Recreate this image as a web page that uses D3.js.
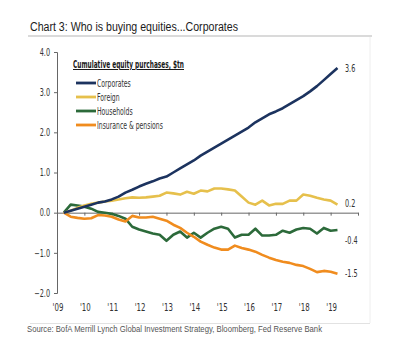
<!DOCTYPE html>
<html>
<head>
<meta charset="utf-8">
<script src="https://cdn.jsdelivr.net/npm/d3@7"></script>
<style>
body { margin: 0; background: #fff; }
svg { display: block; }
.ax text { font-family: "Liberation Sans Narrow", "DejaVu Sans Condensed", sans-serif; font-size: 10px; fill: #333; }
</style>
</head>
<body>
<svg id="chart" width="400" height="361"></svg>
<script>
// quarterly, Q1 2009 .. Q1 2019
var quarters = d3.range(41).map(i => 2009.25 + i * 0.25)

var corporates = [0, 0.05, 0.1, 0.15, 0.2, 0.25, 0.28, 0.33, 0.4, 0.5, 0.57, 0.65, 0.72, 0.78, 0.85, 0.9,
	1.0, 1.1, 1.2, 1.3, 1.42, 1.52, 1.62, 1.72, 1.82, 1.92, 2.02, 2.12, 2.25, 2.35, 2.45, 2.52,
	2.6, 2.7, 2.8, 2.9, 3.02, 3.15, 3.3, 3.45, 3.6]
var foreign = [0, 0.05, 0.12, 0.18, 0.22, 0.25, 0.28, 0.3, 0.33, 0.36, 0.38, 0.37, 0.38, 0.4, 0.42, 0.5,
	0.48, 0.45, 0.52, 0.47, 0.55, 0.53, 0.6, 0.6, 0.58, 0.55, 0.4, 0.25, 0.2, 0.3, 0.18, 0.22,
	0.22, 0.3, 0.3, 0.45, 0.42, 0.37, 0.33, 0.3, 0.2]
var households = [0, 0.2, 0.18, 0.15, 0.1, 0.02, 0, -0.03, -0.08, -0.15, -0.35, -0.42, -0.47, -0.52, -0.55, -0.7,
	-0.55, -0.47, -0.62, -0.5, -0.62, -0.5, -0.4, -0.35, -0.4, -0.62, -0.55, -0.55, -0.4, -0.57, -0.57, -0.55,
	-0.45, -0.5, -0.42, -0.38, -0.4, -0.52, -0.38, -0.45, -0.43]
var insurance = [0, -0.1, -0.13, -0.15, -0.14, -0.06, -0.07, -0.1, -0.17, -0.22, -0.08, -0.12, -0.12, -0.1, -0.15, -0.2,
	-0.3, -0.38, -0.5, -0.6, -0.72, -0.8, -0.87, -0.92, -0.92, -0.82, -0.88, -0.92, -0.97, -1.05, -1.12, -1.18,
	-1.22, -1.25, -1.3, -1.33, -1.4, -1.48, -1.45, -1.47, -1.52]

var seriesNames = ["Corporates", "Foreign", "Households", "Insurance & pensions"]
var seriesColors = ["#1c335f", "#e6c04c", "#2c6a3a", "#f08c1e"]
var endLabels = ["3.6", "0.2", "-0.4", "-1.5"]
var yTicks = [4, 3, 2, 1, 0, -1, -2]
var xYears = d3.range(2009, 2020)

var svg = d3.select("#chart")
var cond = '"Liberation Sans Narrow", "DejaVu Sans Condensed", sans-serif'

// the original uses a very narrow font, squeeze ours to match
function squeeze(sel, k) {
	sel.each(function() {
		let w = this.getComputedTextLength()
		d3.select(this)
		.attr("textLength", w * k)
		.attr("lengthAdjust", "spacingAndGlyphs")
	})
}

// title + frame
svg.append("text")
	.attr("x", 30).attr("y", 31)
	.attr("font-family", "Liberation Sans, Arial, sans-serif")
	.attr("font-size", 12.5)
	.attr("fill", "#1a1a1a")
	.attr("textLength", 208).attr("lengthAdjust", "spacingAndGlyphs")
	.text("Chart 3: Who is buying equities...Corporates")

svg.append("line").attr("x1", 28).attr("x2", 372).attr("y1", 36).attr("y2", 36)
	.attr("stroke", "#b5b5b5").attr("stroke-width", 1)
svg.append("line").attr("x1", 370).attr("x2", 370).attr("y1", 37).attr("y2", 323)
	.attr("stroke", "#eee")
svg.append("line").attr("x1", 30).attr("x2", 370).attr("y1", 323.5).attr("y2", 323.5)
	.attr("stroke", "#e2e2e2")

var x = d3.scaleLinear().domain([2009, 2020]).range([57, 358])
var y = d3.scaleLinear().domain([-2, 4]).range([293, 52])

// y axis
var yAxis = svg.append("g")
	.attr("class", "ax")
	.attr("transform", "translate(57,0)")
	.call(d3.axisLeft(y).tickValues(yTicks).tickFormat(d3.format(".1f")).tickSize(3).tickPadding(4))
yAxis.select(".domain").attr("stroke", "#666")
yAxis.selectAll(".tick line").attr("stroke", "#666")
squeeze(yAxis.selectAll(".tick text"), 0.72)

// zero line with year ticks
var xAxis = svg.append("g")
	.attr("class", "ax")
	.attr("transform", "translate(0," + y(0) + ")")
	.call(d3.axisBottom(x).tickValues(xYears.concat([2020])).tickFormat("").tickSize(3).tickSizeOuter(0))
xAxis.select(".domain").attr("stroke", "#666")
xAxis.selectAll(".tick line").attr("stroke", "#666")

var yearLabels = svg.append("g")
	.selectAll("text")
	.data(xYears)
	.join("text")
	.attr("x", d => x(d) + 1)
	.attr("y", 311)
	.attr("text-anchor", "middle")
	.attr("font-family", cond)
	.attr("font-size", 10)
	.attr("fill", "#333")
	.text(d => "'" + String(d).slice(2))
squeeze(yearLabels, 0.78)

// lines
var allSeries = [corporates, foreign, households, insurance]
var line = d3.line()
	.x((d, i) => x(quarters[i]))
	.y(d => y(d))

// draw order: households & insurance under corporates
var order = [2, 3, 1, 0]
svg.append("g")
	.selectAll("path")
	.data(order)
	.join("path")
	.attr("d", k => line(allSeries[k]))
	.attr("fill", "none")
	.attr("stroke", k => seriesColors[k])
	.attr("stroke-width", 2.6)
	.attr("stroke-linejoin", "round")

var ends = svg.append("g")
	.selectAll("text")
	.data(allSeries)
	.join("text")
	.attr("x", 345)
	.attr("y", (d, i) => y(d[d.length - 1]) + 3.5 + (i == 1 ? -1 : 0) + (i == 2 ? 11 : 0))
	.attr("font-family", cond)
	.attr("font-size", 10)
	.attr("fill", "#333")
	.text((d, i) => endLabels[i])
squeeze(ends, 0.72)

// legend
var lg = svg.append("g")
var lgTitle = svg.append("text")
	.attr("x", 73).attr("y", 68)
	.attr("font-family", cond)
	.attr("font-size", 10)
	.attr("font-weight", "bold")
	.attr("fill", "#1a1a1a")
	.attr("text-decoration", "underline")
	.text("Cumulative equity purchases, $tn")
lgTitle.attr("textLength", 111).attr("lengthAdjust", "spacingAndGlyphs")

var items = lg.selectAll("g")
	.data(seriesNames)
	.join("g")
	.attr("transform", (d, i) => "translate(76," + (83 + i * 14) + ")")
items.append("line")
	.attr("x1", 0).attr("x2", 20)
	.attr("stroke", (d, i) => seriesColors[i])
	.attr("stroke-width", 2.8)
var itemText = items.append("text")
	.attr("x", 21).attr("y", 3.5)
	.attr("font-family", cond)
	.attr("font-size", 10)
	.attr("fill", "#333")
	.text(d => d)
squeeze(itemText, 0.68)

// source
svg.append("text")
	.attr("x", 27).attr("y", 332)
	.attr("font-family", "Liberation Sans, Arial, sans-serif")
	.attr("font-size", 8.5)
	.attr("fill", "#555")
	.attr("textLength", 295).attr("lengthAdjust", "spacingAndGlyphs")
	.text("Source: BofA Merrill Lynch Global Investment Strategy, Bloomberg, Fed Reserve Bank")
</script>
</body>
</html>
